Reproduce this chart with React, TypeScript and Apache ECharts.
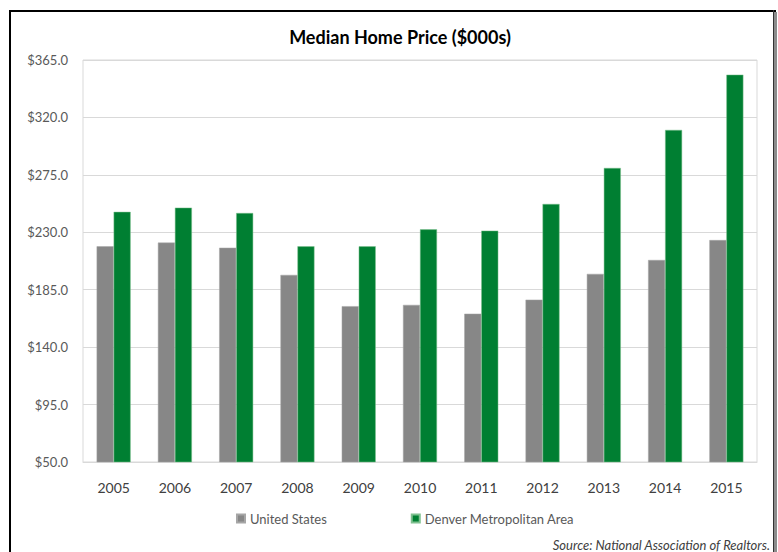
import React, { useEffect, useRef } from "react";
import * as echarts from "echarts";

const years = ["2005", "2006", "2007", "2008", "2009", "2010", "2011", "2012", "2013", "2014", "2015"];
const unitedStates = [219.0, 221.9, 217.9, 196.6, 172.1, 173.1, 166.2, 177.2, 197.4, 208.3, 223.9];
const denver = [246.0, 249.3, 245.1, 219.0, 219.0, 232.3, 231.3, 252.2, 280.4, 310.2, 353.5];
const seriesNames = ["United States", "Denver Metropolitan Area"];
const titleText = "Median Home Price ($000s)";
const sourceText = "Source: National Association of Realtors.";

const FONT = "Lato, 'Open Sans', sans-serif";

export default function App() {
  const ref = useRef<HTMLDivElement>(null);
  useEffect(() => {
    if (!ref.current) return;
    const chart = echarts.init(ref.current, null, { renderer: "svg" });
    chart.setOption({
      animation: false,
      backgroundColor: "#ffffff",
      textStyle: { fontFamily: FONT },
      title: {
        text: titleText,
        left: 395,
        top: 23,
        textAlign: "center",
        textStyle: { fontSize: 18, fontWeight: "bold", color: "#000000", fontFamily: FONT },
      },
      legend: {
        data: seriesNames,
        top: 507,
        left: 231,
        itemWidth: 8,
        itemHeight: 8,
        itemGap: 84,
        icon: "rect",
        textStyle: { fontSize: 13, color: "#595959", fontFamily: FONT },
      },
      grid: {
        left: 83,
        right: 21,
        top: 60,
        bottom: 90,
        show: true,
        borderColor: "#d9d9d9",
        borderWidth: 1,
      },
      xAxis: {
        type: "category",
        data: years,
        axisLine: { show: true, lineStyle: { color: "#d9d9d9" } },
        axisTick: { show: false },
        axisLabel: { fontSize: 14, color: "#404040", margin: 18, fontFamily: FONT },
      },
      yAxis: {
        type: "value",
        min: 50,
        max: 365,
        interval: 45,
        axisLine: { show: false },
        axisTick: { show: false },
        splitLine: { lineStyle: { color: "#d9d9d9", width: 1 } },
        axisLabel: {
          fontSize: 13,
          color: "#595959",
          margin: 15,
          fontFamily: FONT,
          formatter: (v: number) => "$" + v.toFixed(1),
        },
      },
      series: [
        {
          name: seriesNames[0],
          type: "bar",
          data: unitedStates,
          barWidth: 17,
          barGap: "0%",
          itemStyle: { color: "#878787", borderColor: "#a6a6a6", borderWidth: 0.5 },
        },
        {
          name: seriesNames[1],
          type: "bar",
          data: denver,
          barWidth: 17,
          barGap: "0%",
          itemStyle: { color: "#007f32", borderColor: "#7fc08f", borderWidth: 0.5 },
        },
      ],
      graphic: [
        { type: "rect", shape: { x: 9, y: 10, width: 767, height: 2 }, style: { fill: "#000000" } },
        { type: "rect", shape: { x: 9, y: 10, width: 2, height: 560 }, style: { fill: "#000000" } },
        { type: "rect", shape: { x: 773, y: 10, width: 1, height: 560 }, style: { fill: "#333333" } },
        { type: "rect", shape: { x: 774, y: 12, width: 3, height: 560 }, style: { fill: "#8c8c8c" } },
        {
          type: "text",
          right: 8,
          top: 538,
          style: {
            text: sourceText,
            font: "italic 13px " + FONT,
            fill: "#404040",
            textAlign: "right",
          },
        },
      ],
    });
    return () => chart.dispose();
  }, []);
  return (
    <div
      ref={ref}
      style={{ position: "fixed", left: 0, top: 0, width: 778, height: 552 }}
    />
  );
}
